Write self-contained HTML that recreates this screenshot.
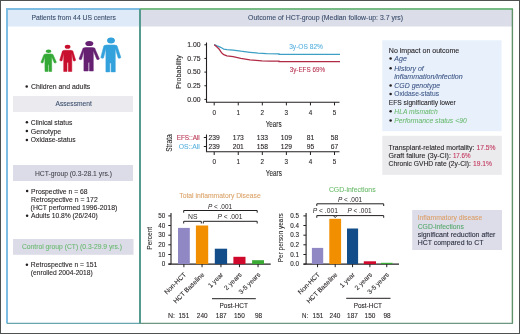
<!DOCTYPE html>
<html><head><meta charset="utf-8"><title>HCT outcome graphical abstract</title>
<style>
html,body{margin:0;padding:0;background:#fff;}
body{width:520px;height:334px;overflow:hidden;}
svg{display:block;font-family:"Liberation Sans", sans-serif;will-change:transform;}
</style></head>
<body>
<svg width="520" height="334" viewBox="0 0 520 334">
<rect x="0" y="0" width="520" height="334" fill="#ffffff"/>
<rect x="8" y="10" width="131" height="16.5" fill="#deeaf7"/>
<rect x="13" y="96" width="120" height="16" fill="#ebebef"/>
<rect x="13" y="165" width="120" height="16" fill="#dcdce8"/>
<rect x="13" y="239" width="120.5" height="15.8" fill="#dcdce8"/>
<path d="M7,323.5 L7,9 L140,9" stroke="#7dbde3" stroke-width="2" fill="none"/>
<line x1="7" y1="323.4" x2="140" y2="323.4" stroke="#68a6ae" stroke-width="1.3"/>
<rect x="141" y="10" width="371" height="16.5" fill="#dbdde8"/>
<line x1="140" y1="9" x2="513" y2="9" stroke="#78ba86" stroke-width="2"/>
<line x1="512.4" y1="9" x2="512.4" y2="323.5" stroke="#62926a" stroke-width="1.4"/>
<line x1="140" y1="323.4" x2="513" y2="323.4" stroke="#6d9780" stroke-width="1.3"/>
<line x1="140" y1="9" x2="140" y2="324" stroke="#579a8f" stroke-width="2"/>
<text x="31.4" y="20.1" font-size="7.4" fill="#3a4d6c" stroke="#3a4d6c" stroke-width="0.1" textLength="84.6" lengthAdjust="spacingAndGlyphs">Patients from 44 US centers</text>
<circle cx="26.7" cy="86.4" r="1.25" fill="#231f20"/>
<text x="31" y="88.9" font-size="7.4" fill="#231f20" stroke="#231f20" stroke-width="0.1" textLength="59.3" lengthAdjust="spacingAndGlyphs">Children and adults</text>
<text x="55.5" y="106.1" font-size="7.4" fill="#3a4d6c" stroke="#3a4d6c" stroke-width="0.1" textLength="36.3" lengthAdjust="spacingAndGlyphs">Assessment</text>
<circle cx="26.9" cy="122.19999999999999" r="1.25" fill="#231f20"/>
<text x="30.8" y="124.6" font-size="7.4" fill="#231f20" stroke="#231f20" stroke-width="0.1" textLength="41.5" lengthAdjust="spacingAndGlyphs">Clinical status</text>
<circle cx="26.9" cy="131.1" r="1.25" fill="#231f20"/>
<text x="30.8" y="133.5" font-size="7.4" fill="#231f20" stroke="#231f20" stroke-width="0.1" textLength="30.4" lengthAdjust="spacingAndGlyphs">Genotype</text>
<circle cx="26.9" cy="139.9" r="1.25" fill="#231f20"/>
<text x="30.8" y="142.3" font-size="7.4" fill="#231f20" stroke="#231f20" stroke-width="0.1" textLength="44.9" lengthAdjust="spacingAndGlyphs">Oxidase-status</text>
<text x="34.9" y="175.5" font-size="7.4" fill="#44444e" stroke="#44444e" stroke-width="0.08" textLength="77.0" lengthAdjust="spacingAndGlyphs">HCT-group (0.3-28.1 yrs.)</text>
<circle cx="27.1" cy="191.1" r="1.25" fill="#231f20"/>
<text x="31.1" y="193.5" font-size="7.4" fill="#231f20" stroke="#231f20" stroke-width="0.1" textLength="56.5" lengthAdjust="spacingAndGlyphs">Prospective n = 68</text>
<text x="31.1" y="201.6" font-size="7.4" fill="#231f20" stroke="#231f20" stroke-width="0.1" textLength="66.6" lengthAdjust="spacingAndGlyphs">Retrospective n = 172</text>
<text x="30.6" y="209.8" font-size="7.4" fill="#231f20" stroke="#231f20" stroke-width="0.1" textLength="86.7" lengthAdjust="spacingAndGlyphs">(HCT performed 1996-2018)</text>
<circle cx="27.1" cy="215.79999999999998" r="1.25" fill="#231f20"/>
<text x="31.1" y="218.2" font-size="7.4" fill="#231f20" stroke="#231f20" stroke-width="0.1" textLength="66.6" lengthAdjust="spacingAndGlyphs">Adults 10.8% (26/240)</text>
<text x="22" y="249.3" font-size="7.4" fill="#66b86b" stroke="#66b86b" stroke-width="0.06" textLength="100" lengthAdjust="spacingAndGlyphs">Control group (CT) (0.3-29.9 yrs.)</text>
<circle cx="26.9" cy="264.8" r="1.25" fill="#231f20"/>
<text x="30.8" y="267.2" font-size="7.4" fill="#231f20" stroke="#231f20" stroke-width="0.1" textLength="66.6" lengthAdjust="spacingAndGlyphs">Retrospective n = 151</text>
<text x="30.8" y="274.9" font-size="7.4" fill="#231f20" stroke="#231f20" stroke-width="0.1" textLength="61.9" lengthAdjust="spacingAndGlyphs">(enrolled 2004-2018)</text>
<g><ellipse cx="48.55" cy="51.2" rx="2.85" ry="1.75" fill="#35a936"/><path d="M45.0,71.5 L44.9,64.8 L44.9,56.65 L43.1,62.7 Q42.0,63.6 40.9,62.3 L43.4,55.88 Q43.4,53.9 45.97,53.9 L51.03,53.9 Q53.6,53.9 53.6,55.88 L56.4,62.3 Q55.3,63.6 54.2,62.7 L51.7,56.65 L51.7,64.8 L51.7,71.5 L48.9,71.5 L48.9,64.8 L48.0,64.8 L48.0,71.5 Z" fill="#35a936" stroke="#35a936" stroke-width="0.5" stroke-linejoin="round"/></g>
<g><ellipse cx="67.6" cy="46.7" rx="2.85" ry="2.0" fill="#c8102e"/><path d="M63.7,71.5 L63.7,62.6 L63.7,53.3 L62.1,60.7 Q60.9,61.6 59.7,60.3 L62.0,52.46 Q62.0,50.3 64.81,50.3 L70.49,50.3 Q73.3,50.3 73.3,52.46 L75.7,60.3 Q74.5,61.6 73.3,60.7 L71.8,53.3 L71.8,62.6 L71.8,71.5 L68.3,71.5 L68.3,62.6 L67.0,62.6 L67.0,71.5 Z" fill="#c8102e" stroke="#c8102e" stroke-width="0.5" stroke-linejoin="round"/></g>
<g><ellipse cx="89.3" cy="43.55" rx="4.0" ry="2.55" fill="#652072"/><path d="M83.9,71.0 L83.9,62.4 L83.9,50.75 L81.6,59.3 Q80.3,60.2 79.0,58.9 L82.5,49.84 Q82.5,47.5 85.54,47.5 L92.36,47.5 Q95.4,47.5 95.4,49.84 L99.4,58.9 Q98.1,60.2 96.8,59.3 L93.3,50.75 L93.3,62.4 L93.3,71.0 L89.4,71.0 L89.4,62.4 L88.2,62.4 L88.2,71.0 Z" fill="#652072" stroke="#652072" stroke-width="0.5" stroke-linejoin="round"/></g>
<g><ellipse cx="111" cy="40.4" rx="3.9" ry="3.0" fill="#33a1dc"/><path d="M105.9,71.9 L105.9,63.0 L105.9,48.38 L103.5,58.0 Q102.15,58.9 100.8,57.6 L103.4,47.43 Q103.4,45.0 106.56,45.0 L114.44,45.0 Q117.6,45.0 117.6,47.43 L120.9,57.6 Q119.55,58.9 118.2,58.0 L115.3,48.38 L115.3,63.0 L115.3,71.9 L111.1,71.9 L111.1,63.0 L109.8,63.0 L109.8,71.9 Z" fill="#33a1dc" stroke="#33a1dc" stroke-width="0.5" stroke-linejoin="round"/></g>
<text x="248" y="20.2" font-size="7.4" fill="#3a4d6c" stroke="#3a4d6c" stroke-width="0.1" textLength="155" lengthAdjust="spacingAndGlyphs">Outcome of HCT-group (Median follow-up: 3.7 yrs)</text>
<line x1="206.5" y1="42.5" x2="206.5" y2="102.3" stroke="#231f20" stroke-width="1.1"/>
<line x1="206.0" y1="102.3" x2="339.5" y2="102.3" stroke="#231f20" stroke-width="1.1"/>
<line x1="204.4" y1="44.800000000000004" x2="206.5" y2="44.800000000000004" stroke="#231f20" stroke-width="1"/>
<text x="187.2" y="47.00000000000001" font-size="6.3" fill="#231f20" stroke="#231f20" stroke-width="0.09" textLength="13.4" lengthAdjust="spacingAndGlyphs">1.00</text>
<line x1="204.4" y1="58.45" x2="206.5" y2="58.45" stroke="#231f20" stroke-width="1"/>
<text x="187.2" y="60.650000000000006" font-size="6.3" fill="#231f20" stroke="#231f20" stroke-width="0.09" textLength="13.4" lengthAdjust="spacingAndGlyphs">0.75</text>
<line x1="204.4" y1="72.10000000000001" x2="206.5" y2="72.10000000000001" stroke="#231f20" stroke-width="1"/>
<text x="187.2" y="74.30000000000001" font-size="6.3" fill="#231f20" stroke="#231f20" stroke-width="0.09" textLength="13.4" lengthAdjust="spacingAndGlyphs">0.50</text>
<line x1="204.4" y1="85.75" x2="206.5" y2="85.75" stroke="#231f20" stroke-width="1"/>
<text x="187.2" y="87.95" font-size="6.3" fill="#231f20" stroke="#231f20" stroke-width="0.09" textLength="13.4" lengthAdjust="spacingAndGlyphs">0.25</text>
<line x1="204.4" y1="99.4" x2="206.5" y2="99.4" stroke="#231f20" stroke-width="1"/>
<text x="187.2" y="101.60000000000001" font-size="6.3" fill="#231f20" stroke="#231f20" stroke-width="0.09" textLength="13.4" lengthAdjust="spacingAndGlyphs">0.00</text>
<line x1="214.2" y1="102.3" x2="214.2" y2="105.4" stroke="#231f20" stroke-width="1"/>
<text x="214.2" y="114.7" font-size="6.3" fill="#231f20" stroke="#231f20" stroke-width="0.09" text-anchor="middle">0</text>
<line x1="238.26" y1="102.3" x2="238.26" y2="105.4" stroke="#231f20" stroke-width="1"/>
<text x="238.26" y="114.7" font-size="6.3" fill="#231f20" stroke="#231f20" stroke-width="0.09" text-anchor="middle">1</text>
<line x1="262.32" y1="102.3" x2="262.32" y2="105.4" stroke="#231f20" stroke-width="1"/>
<text x="262.32" y="114.7" font-size="6.3" fill="#231f20" stroke="#231f20" stroke-width="0.09" text-anchor="middle">2</text>
<line x1="286.38" y1="102.3" x2="286.38" y2="105.4" stroke="#231f20" stroke-width="1"/>
<text x="286.38" y="114.7" font-size="6.3" fill="#231f20" stroke="#231f20" stroke-width="0.09" text-anchor="middle">3</text>
<line x1="310.44" y1="102.3" x2="310.44" y2="105.4" stroke="#231f20" stroke-width="1"/>
<text x="310.44" y="114.7" font-size="6.3" fill="#231f20" stroke="#231f20" stroke-width="0.09" text-anchor="middle">4</text>
<line x1="334.5" y1="102.3" x2="334.5" y2="105.4" stroke="#231f20" stroke-width="1"/>
<text x="334.5" y="114.7" font-size="6.3" fill="#231f20" stroke="#231f20" stroke-width="0.09" text-anchor="middle">5</text>
<text x="265.7" y="126.5" font-size="8.4" fill="#2a2a2a" stroke="#2a2a2a" stroke-width="0.09" textLength="15.9" lengthAdjust="spacingAndGlyphs">Years</text>
<text x="0" y="0" font-size="7.4" fill="#2a2a2a" stroke="#2a2a2a" stroke-width="0.09" text-anchor="middle" textLength="33.6" lengthAdjust="spacingAndGlyphs" transform="translate(181,71.9) rotate(-90)">Probability</text>
<path d="M214.2,44.7 L216,45.4 L217.7,46.2 L219.6,46.9 L221.5,47.7 L222.7,48.5 L223.8,49.1 L226.9,49.6 L233.1,50.1 L240.8,51.2 L250,52.3 L258,53.1 L266.5,53.6 L279,53.9 L279,54.3 L340,54.3" stroke="#3d9fc4" stroke-width="1.25" fill="none"/>
<path d="M214.2,44.7 L215.5,45.7 L216.9,46.9 L218,48 L219.2,49.2 L220.3,50.9 L221.5,52.7 L222.6,53.8 L223.8,54.6 L226.9,55.8 L233.1,56.6 L240.8,58.3 L250,59.8 L256,60.4 L262,60.9 L270,61.1 L279,61.2 L279,61.6 L340,61.6" stroke="#b02a45" stroke-width="1.3" fill="none"/>
<text x="289.2" y="48.7" font-size="6.6" fill="#5ab2de" stroke="#5ab2de" stroke-width="0.09" textLength="33.8" lengthAdjust="spacingAndGlyphs">3y-OS 82%</text>
<text x="289.7" y="72.4" font-size="6.6" fill="#b83553" stroke="#b83553" stroke-width="0.09" textLength="35.3" lengthAdjust="spacingAndGlyphs">3y-EFS 69%</text>
<line x1="206.5" y1="134.5" x2="206.5" y2="151.8" stroke="#231f20" stroke-width="1.1"/>
<line x1="206.0" y1="151.8" x2="339.5" y2="151.8" stroke="#231f20" stroke-width="1.1"/>
<line x1="203.8" y1="137.5" x2="206.5" y2="137.5" stroke="#231f20" stroke-width="1"/>
<line x1="203.8" y1="146.5" x2="206.5" y2="146.5" stroke="#231f20" stroke-width="1"/>
<text x="176.7" y="139.7" font-size="6.6" fill="#b83553" stroke="#b83553" stroke-width="0.09" textLength="23.1" lengthAdjust="spacingAndGlyphs">EFS::All</text>
<text x="178.7" y="148.6" font-size="6.6" fill="#5ab2de" stroke="#5ab2de" stroke-width="0.09" textLength="21.1" lengthAdjust="spacingAndGlyphs">OS::All</text>
<text x="0" y="0" font-size="8.4" fill="#2a2a2a" stroke="#2a2a2a" stroke-width="0.09" text-anchor="middle" textLength="17.5" lengthAdjust="spacingAndGlyphs" transform="translate(172,143.1) rotate(-90)">Strata</text>
<text x="208.6" y="139.8" font-size="6.3" fill="#231f20" stroke="#231f20" stroke-width="0.09" textLength="11.2" lengthAdjust="spacingAndGlyphs">239</text>
<text x="208.6" y="148.9" font-size="6.3" fill="#231f20" stroke="#231f20" stroke-width="0.09" textLength="11.2" lengthAdjust="spacingAndGlyphs">239</text>
<line x1="214.2" y1="151.8" x2="214.2" y2="155.0" stroke="#231f20" stroke-width="1"/>
<text x="214.2" y="164.1" font-size="6.3" fill="#231f20" stroke="#231f20" stroke-width="0.09" text-anchor="middle">0</text>
<text x="232.66" y="139.8" font-size="6.3" fill="#231f20" stroke="#231f20" stroke-width="0.09" textLength="11.2" lengthAdjust="spacingAndGlyphs">173</text>
<text x="232.66" y="148.9" font-size="6.3" fill="#231f20" stroke="#231f20" stroke-width="0.09" textLength="11.2" lengthAdjust="spacingAndGlyphs">201</text>
<line x1="238.26" y1="151.8" x2="238.26" y2="155.0" stroke="#231f20" stroke-width="1"/>
<text x="238.26" y="164.1" font-size="6.3" fill="#231f20" stroke="#231f20" stroke-width="0.09" text-anchor="middle">1</text>
<text x="256.71999999999997" y="139.8" font-size="6.3" fill="#231f20" stroke="#231f20" stroke-width="0.09" textLength="11.2" lengthAdjust="spacingAndGlyphs">133</text>
<text x="256.71999999999997" y="148.9" font-size="6.3" fill="#231f20" stroke="#231f20" stroke-width="0.09" textLength="11.2" lengthAdjust="spacingAndGlyphs">158</text>
<line x1="262.32" y1="151.8" x2="262.32" y2="155.0" stroke="#231f20" stroke-width="1"/>
<text x="262.32" y="164.1" font-size="6.3" fill="#231f20" stroke="#231f20" stroke-width="0.09" text-anchor="middle">2</text>
<text x="280.78" y="139.8" font-size="6.3" fill="#231f20" stroke="#231f20" stroke-width="0.09" textLength="11.2" lengthAdjust="spacingAndGlyphs">109</text>
<text x="280.78" y="148.9" font-size="6.3" fill="#231f20" stroke="#231f20" stroke-width="0.09" textLength="11.2" lengthAdjust="spacingAndGlyphs">129</text>
<line x1="286.38" y1="151.8" x2="286.38" y2="155.0" stroke="#231f20" stroke-width="1"/>
<text x="286.38" y="164.1" font-size="6.3" fill="#231f20" stroke="#231f20" stroke-width="0.09" text-anchor="middle">3</text>
<text x="306.69" y="139.8" font-size="6.3" fill="#231f20" stroke="#231f20" stroke-width="0.09" textLength="7.5" lengthAdjust="spacingAndGlyphs">81</text>
<text x="306.69" y="148.9" font-size="6.3" fill="#231f20" stroke="#231f20" stroke-width="0.09" textLength="7.5" lengthAdjust="spacingAndGlyphs">95</text>
<line x1="310.44" y1="151.8" x2="310.44" y2="155.0" stroke="#231f20" stroke-width="1"/>
<text x="310.44" y="164.1" font-size="6.3" fill="#231f20" stroke="#231f20" stroke-width="0.09" text-anchor="middle">4</text>
<text x="330.75" y="139.8" font-size="6.3" fill="#231f20" stroke="#231f20" stroke-width="0.09" textLength="7.5" lengthAdjust="spacingAndGlyphs">58</text>
<text x="330.75" y="148.9" font-size="6.3" fill="#231f20" stroke="#231f20" stroke-width="0.09" textLength="7.5" lengthAdjust="spacingAndGlyphs">67</text>
<line x1="334.5" y1="151.8" x2="334.5" y2="155.0" stroke="#231f20" stroke-width="1"/>
<text x="334.5" y="164.1" font-size="6.3" fill="#231f20" stroke="#231f20" stroke-width="0.09" text-anchor="middle">5</text>
<text x="265.8" y="176.4" font-size="8.4" fill="#2a2a2a" stroke="#2a2a2a" stroke-width="0.09" textLength="16.1" lengthAdjust="spacingAndGlyphs">Years</text>
<rect x="382.3" y="40.3" width="119.2" height="90.9" fill="#e7f0fb"/>
<rect x="382.3" y="135.8" width="119.5" height="39.1" fill="#ebebee"/>
<text x="388.8" y="52.7" font-size="7.4" fill="#231f20" stroke="#231f20" stroke-width="0.1" textLength="70.5" lengthAdjust="spacingAndGlyphs">No impact on outcome</text>
<circle cx="390.6" cy="58.6" r="1.25" fill="#231f20"/>
<text x="394.3" y="61.0" font-size="7.4" fill="#3b5384" stroke="#3b5384" stroke-width="0.07" font-style="italic" textLength="12.5" lengthAdjust="spacingAndGlyphs">Age</text>
<circle cx="390.6" cy="68.19999999999999" r="1.25" fill="#231f20"/>
<text x="394.3" y="70.6" font-size="7.4" fill="#3b5384" stroke="#3b5384" stroke-width="0.07" font-style="italic" textLength="29.5" lengthAdjust="spacingAndGlyphs">History of</text>
<circle cx="390.6" cy="85.39999999999999" r="1.25" fill="#231f20"/>
<text x="394.3" y="87.8" font-size="7.4" fill="#3b5384" stroke="#3b5384" stroke-width="0.07" font-style="italic" textLength="45.9" lengthAdjust="spacingAndGlyphs">CGD genotype</text>
<circle cx="390.6" cy="94.0" r="1.25" fill="#231f20"/>
<text x="394.3" y="96.4" font-size="7.4" fill="#3b5384" stroke="#3b5384" stroke-width="0.07" textLength="44.7" lengthAdjust="spacingAndGlyphs">Oxidase-status</text>
<text x="394.3" y="78.5" font-size="7.4" fill="#3b5384" stroke="#3b5384" stroke-width="0.07" font-style="italic" textLength="68.4" lengthAdjust="spacingAndGlyphs">inflammation/infection</text>
<text x="388.8" y="105.1" font-size="7.4" fill="#231f20" stroke="#231f20" stroke-width="0.1" textLength="67.0" lengthAdjust="spacingAndGlyphs">EFS significantly lower</text>
<circle cx="390.6" cy="111.3" r="1.25" fill="#231f20"/>
<text x="394.3" y="113.7" font-size="7.4" fill="#6aba6e" stroke="#6aba6e" stroke-width="0.05" font-style="italic" textLength="43.4" lengthAdjust="spacingAndGlyphs">HLA mismatch</text>
<circle cx="390.6" cy="120.5" r="1.25" fill="#231f20"/>
<text x="394.3" y="122.9" font-size="7.4" fill="#6aba6e" stroke="#6aba6e" stroke-width="0.05" font-style="italic" textLength="72.4" lengthAdjust="spacingAndGlyphs">Performance status &lt;90</text>
<text x="388.6" y="149.7" font-size="7.4" fill="#231f20" stroke="#231f20" stroke-width="0.1" textLength="85.8" lengthAdjust="spacingAndGlyphs">Transplant-related mortality:</text>
<text x="476.4" y="149.7" font-size="7.4" fill="#c2345a" stroke="#c2345a" stroke-width="0.1" textLength="19.1" lengthAdjust="spacingAndGlyphs">17.5%</text>
<text x="388.6" y="157.8" font-size="7.4" fill="#231f20" stroke="#231f20" stroke-width="0.1" textLength="62.3" lengthAdjust="spacingAndGlyphs">Graft failure (3y-CI):</text>
<text x="452.9" y="157.8" font-size="7.4" fill="#c2345a" stroke="#c2345a" stroke-width="0.1" textLength="17.7" lengthAdjust="spacingAndGlyphs">17.6%</text>
<text x="388.6" y="165.9" font-size="7.4" fill="#231f20" stroke="#231f20" stroke-width="0.1" textLength="82.4" lengthAdjust="spacingAndGlyphs">Chronic GVHD rate (2y-CI):</text>
<text x="473.0" y="165.9" font-size="7.4" fill="#c2345a" stroke="#c2345a" stroke-width="0.1" textLength="18.9" lengthAdjust="spacingAndGlyphs">19.1%</text>
<rect x="412.2" y="210.0" width="89.8" height="40.0" fill="#dcdde9"/>
<text x="417.7" y="220.4" font-size="7.4" fill="#dd9c62" stroke="#dd9c62" stroke-width="0.06" textLength="64.5" lengthAdjust="spacingAndGlyphs">Inflammatory disease</text>
<text x="417.7" y="228.9" font-size="7.4" fill="#56a86c" stroke="#56a86c" stroke-width="0.1" textLength="46.1" lengthAdjust="spacingAndGlyphs">CGD-infections</text>
<text x="417.7" y="236.8" font-size="7.4" fill="#2b2d3f" stroke="#2b2d3f" stroke-width="0.1" textLength="77.7" lengthAdjust="spacingAndGlyphs">significant reduction after</text>
<text x="417.7" y="244.8" font-size="7.4" fill="#2b2d3f" stroke="#2b2d3f" stroke-width="0.1" textLength="65.7" lengthAdjust="spacingAndGlyphs">HCT compared to CT</text>
<text x="179.3" y="198.3" font-size="7.3" fill="#dba36a" stroke="#dba36a" stroke-width="0.09" textLength="81.4" lengthAdjust="spacingAndGlyphs">Total inflammatory Disease</text>
<line x1="171.0" y1="213.0" x2="171.0" y2="264.1" stroke="#231f20" stroke-width="1.1"/>
<line x1="168.5" y1="264.1" x2="270.7" y2="264.1" stroke="#231f20" stroke-width="1.1"/>
<line x1="168.3" y1="215.9" x2="171.0" y2="215.9" stroke="#231f20" stroke-width="1"/>
<text x="165.3" y="218.1" font-size="6.3" fill="#231f20" stroke="#231f20" stroke-width="0.09" text-anchor="end">50</text>
<line x1="168.3" y1="225.5" x2="171.0" y2="225.5" stroke="#231f20" stroke-width="1"/>
<text x="165.3" y="227.7" font-size="6.3" fill="#231f20" stroke="#231f20" stroke-width="0.09" text-anchor="end">40</text>
<line x1="168.3" y1="235.2" x2="171.0" y2="235.2" stroke="#231f20" stroke-width="1"/>
<text x="165.3" y="237.39999999999998" font-size="6.3" fill="#231f20" stroke="#231f20" stroke-width="0.09" text-anchor="end">30</text>
<line x1="168.3" y1="244.8" x2="171.0" y2="244.8" stroke="#231f20" stroke-width="1"/>
<text x="165.3" y="247.0" font-size="6.3" fill="#231f20" stroke="#231f20" stroke-width="0.09" text-anchor="end">20</text>
<line x1="168.3" y1="254.5" x2="171.0" y2="254.5" stroke="#231f20" stroke-width="1"/>
<text x="165.3" y="256.7" font-size="6.3" fill="#231f20" stroke="#231f20" stroke-width="0.09" text-anchor="end">10</text>
<line x1="168.3" y1="264.1" x2="171.0" y2="264.1" stroke="#231f20" stroke-width="1"/>
<text x="165.3" y="266.3" font-size="6.3" fill="#231f20" stroke="#231f20" stroke-width="0.09" text-anchor="end">0</text>
<rect x="178.0" y="227.9" width="11.8" height="36.2" fill="#9088c4"/>
<line x1="183.9" y1="264.1" x2="183.9" y2="267.2" stroke="#231f20" stroke-width="1"/>
<rect x="195.9" y="225.5" width="12.3" height="38.6" fill="#f18f00"/>
<line x1="202.05" y1="264.1" x2="202.05" y2="267.2" stroke="#231f20" stroke-width="1"/>
<rect x="214.8" y="248.7" width="12.3" height="15.4" fill="#124d8a"/>
<line x1="220.95" y1="264.1" x2="220.95" y2="267.2" stroke="#231f20" stroke-width="1"/>
<rect x="233.4" y="256.8" width="12.1" height="7.3" fill="#d0082c"/>
<line x1="239.45" y1="264.1" x2="239.45" y2="267.2" stroke="#231f20" stroke-width="1"/>
<rect x="252.1" y="260.2" width="11.9" height="3.9" fill="#3aaa35"/>
<line x1="258.05" y1="264.1" x2="258.05" y2="267.2" stroke="#231f20" stroke-width="1"/>
<text x="0" y="0" font-size="7.7" fill="#2a2a2a" stroke="#2a2a2a" stroke-width="0.09" text-anchor="middle" textLength="23.0" lengthAdjust="spacingAndGlyphs" transform="translate(151.7,238.3) rotate(-90)">Percent</text>
<text x="0" y="0" font-size="6.6" fill="#231f20" stroke="#231f20" stroke-width="0.09" text-anchor="end" transform="translate(186.6,275.1) rotate(-45)">Non-HCT</text>
<text x="0" y="0" font-size="6.6" fill="#231f20" stroke="#231f20" stroke-width="0.09" text-anchor="end" transform="translate(204.75,275.1) rotate(-45)">HCT Baseline</text>
<text x="0" y="0" font-size="6.6" fill="#231f20" stroke="#231f20" stroke-width="0.09" text-anchor="end" transform="translate(223.65,275.1) rotate(-45)">1 year</text>
<text x="0" y="0" font-size="6.6" fill="#231f20" stroke="#231f20" stroke-width="0.09" text-anchor="end" transform="translate(242.15,275.1) rotate(-45)">2 years</text>
<text x="0" y="0" font-size="6.6" fill="#231f20" stroke="#231f20" stroke-width="0.09" text-anchor="end" transform="translate(260.75,275.1) rotate(-45)">3-5 years</text>
<path d="M183.7,212.7 L183.7,210.5 L257.2,210.5 L257.2,212.7" stroke="#231f20" stroke-width="1" fill="none"/>
<path d="M183.7,223.5 L183.7,221.3 L201.3,221.3 L201.3,223.5" stroke="#231f20" stroke-width="1" fill="none"/>
<path d="M203.3,223.5 L203.3,221.3 L257.2,221.3 L257.2,223.5" stroke="#231f20" stroke-width="1" fill="none"/>
<text x="207.9" y="208.5" font-size="6.3" fill="#231f20" textLength="24.2" lengthAdjust="spacingAndGlyphs"><tspan font-style="italic">P</tspan> &lt; .001</text>
<text x="188" y="219.2" font-size="6.6" fill="#231f20" textLength="9.5" lengthAdjust="spacingAndGlyphs">NS</text>
<text x="217.4" y="219.2" font-size="6.3" fill="#231f20" textLength="25.1" lengthAdjust="spacingAndGlyphs"><tspan font-style="italic">P</tspan> &lt; .001</text>
<line x1="212" y1="298.7" x2="255.8" y2="298.7" stroke="#231f20" stroke-width="1"/>
<text x="219.5" y="307.7" font-size="6.6" fill="#231f20" stroke="#231f20" stroke-width="0.09" textLength="28.5" lengthAdjust="spacingAndGlyphs">Post-HCT</text>
<text x="168" y="317.8" font-size="6.6" fill="#231f20" stroke="#231f20" stroke-width="0.09" textLength="7" lengthAdjust="spacingAndGlyphs">N:</text>
<text x="178.5" y="317.8" font-size="6.6" fill="#231f20" stroke="#231f20" stroke-width="0.09" textLength="10.8" lengthAdjust="spacingAndGlyphs">151</text>
<text x="196.85" y="317.8" font-size="6.6" fill="#231f20" stroke="#231f20" stroke-width="0.09" textLength="10.8" lengthAdjust="spacingAndGlyphs">240</text>
<text x="215.85" y="317.8" font-size="6.6" fill="#231f20" stroke="#231f20" stroke-width="0.09" textLength="10.8" lengthAdjust="spacingAndGlyphs">187</text>
<text x="234.0" y="317.8" font-size="6.6" fill="#231f20" stroke="#231f20" stroke-width="0.09" textLength="10.8" lengthAdjust="spacingAndGlyphs">150</text>
<text x="254.9" y="317.8" font-size="6.6" fill="#231f20" stroke="#231f20" stroke-width="0.09" textLength="7.2" lengthAdjust="spacingAndGlyphs">98</text>
<text x="328.9" y="191.5" font-size="7.3" fill="#6cbb6c" stroke="#6cbb6c" stroke-width="0.09" textLength="46.7" lengthAdjust="spacingAndGlyphs">CGD-infections</text>
<line x1="306.1" y1="213.0" x2="306.1" y2="264.1" stroke="#231f20" stroke-width="1.1"/>
<line x1="303.5" y1="264.1" x2="399.0" y2="264.1" stroke="#231f20" stroke-width="1.1"/>
<line x1="303.40000000000003" y1="215.9" x2="306.1" y2="215.9" stroke="#231f20" stroke-width="1"/>
<text x="298.9" y="218.1" font-size="6.3" fill="#231f20" stroke="#231f20" stroke-width="0.09" text-anchor="end">0.5</text>
<line x1="303.40000000000003" y1="225.5" x2="306.1" y2="225.5" stroke="#231f20" stroke-width="1"/>
<text x="298.9" y="227.7" font-size="6.3" fill="#231f20" stroke="#231f20" stroke-width="0.09" text-anchor="end">0.4</text>
<line x1="303.40000000000003" y1="235.2" x2="306.1" y2="235.2" stroke="#231f20" stroke-width="1"/>
<text x="298.9" y="237.39999999999998" font-size="6.3" fill="#231f20" stroke="#231f20" stroke-width="0.09" text-anchor="end">0.3</text>
<line x1="303.40000000000003" y1="244.8" x2="306.1" y2="244.8" stroke="#231f20" stroke-width="1"/>
<text x="298.9" y="247.0" font-size="6.3" fill="#231f20" stroke="#231f20" stroke-width="0.09" text-anchor="end">0.2</text>
<line x1="303.40000000000003" y1="254.5" x2="306.1" y2="254.5" stroke="#231f20" stroke-width="1"/>
<text x="298.9" y="256.7" font-size="6.3" fill="#231f20" stroke="#231f20" stroke-width="0.09" text-anchor="end">0.1</text>
<line x1="303.40000000000003" y1="264.1" x2="306.1" y2="264.1" stroke="#231f20" stroke-width="1"/>
<text x="298.9" y="266.3" font-size="6.3" fill="#231f20" stroke="#231f20" stroke-width="0.09" text-anchor="end">0.0</text>
<rect x="311.9" y="247.9" width="11.3" height="16.2" fill="#9088c4"/>
<line x1="317.54999999999995" y1="264.1" x2="317.54999999999995" y2="267.2" stroke="#231f20" stroke-width="1"/>
<rect x="329.3" y="218.8" width="11.8" height="45.3" fill="#f18f00"/>
<line x1="335.20000000000005" y1="264.1" x2="335.20000000000005" y2="267.2" stroke="#231f20" stroke-width="1"/>
<rect x="347.0" y="228.5" width="11.1" height="35.6" fill="#124d8a"/>
<line x1="352.55" y1="264.1" x2="352.55" y2="267.2" stroke="#231f20" stroke-width="1"/>
<rect x="363.8" y="261.3" width="12.2" height="2.8" fill="#d0082c"/>
<line x1="369.9" y1="264.1" x2="369.9" y2="267.2" stroke="#231f20" stroke-width="1"/>
<rect x="381.0" y="262.8" width="11.5" height="1.3" fill="#3aaa35"/>
<line x1="386.75" y1="264.1" x2="386.75" y2="267.2" stroke="#231f20" stroke-width="1"/>
<text x="0" y="0" font-size="7.7" fill="#2a2a2a" stroke="#2a2a2a" stroke-width="0.09" text-anchor="middle" textLength="49.0" lengthAdjust="spacingAndGlyphs" transform="translate(283.2,237.7) rotate(-90)">Per person years</text>
<text x="0" y="0" font-size="6.6" fill="#231f20" stroke="#231f20" stroke-width="0.09" text-anchor="end" transform="translate(320.25,275.1) rotate(-45)">Non-HCT</text>
<text x="0" y="0" font-size="6.6" fill="#231f20" stroke="#231f20" stroke-width="0.09" text-anchor="end" transform="translate(337.9,275.1) rotate(-45)">HCT Baseline</text>
<text x="0" y="0" font-size="6.6" fill="#231f20" stroke="#231f20" stroke-width="0.09" text-anchor="end" transform="translate(355.25,275.1) rotate(-45)">1 year</text>
<text x="0" y="0" font-size="6.6" fill="#231f20" stroke="#231f20" stroke-width="0.09" text-anchor="end" transform="translate(372.6,275.1) rotate(-45)">2 years</text>
<text x="0" y="0" font-size="6.6" fill="#231f20" stroke="#231f20" stroke-width="0.09" text-anchor="end" transform="translate(389.45,275.1) rotate(-45)">3-5 years</text>
<path d="M316.8,206.0 L316.8,203.8 L383.7,203.8 L383.7,206.0" stroke="#231f20" stroke-width="1" fill="none"/>
<path d="M316.8,217.79999999999998 L316.8,215.6 L383.7,215.6 L383.7,217.79999999999998" stroke="#231f20" stroke-width="1" fill="none"/>
<path d="M333.4,215.6 L335.2,217.6 L337,215.6" stroke="#231f20" stroke-width="0.9" fill="none"/>
<text x="337.9" y="201.7" font-size="6.3" fill="#231f20" textLength="24.2" lengthAdjust="spacingAndGlyphs"><tspan font-style="italic">P</tspan> &lt; .001</text>
<text x="312.8" y="213.4" font-size="6.3" fill="#231f20" textLength="25.1" lengthAdjust="spacingAndGlyphs"><tspan font-style="italic">P</tspan> &lt; .001</text>
<text x="347.4" y="213.4" font-size="6.3" fill="#231f20" textLength="24.2" lengthAdjust="spacingAndGlyphs"><tspan font-style="italic">P</tspan> &lt; .001</text>
<line x1="346.2" y1="298.3" x2="390.5" y2="298.3" stroke="#231f20" stroke-width="1"/>
<text x="353.7" y="307.7" font-size="6.6" fill="#231f20" stroke="#231f20" stroke-width="0.09" textLength="28.3" lengthAdjust="spacingAndGlyphs">Post-HCT</text>
<text x="302" y="317.8" font-size="6.6" fill="#231f20" stroke="#231f20" stroke-width="0.09" textLength="6.2" lengthAdjust="spacingAndGlyphs">N:</text>
<text x="312.6" y="317.8" font-size="6.6" fill="#231f20" stroke="#231f20" stroke-width="0.09" textLength="10.8" lengthAdjust="spacingAndGlyphs">151</text>
<text x="329.6" y="317.8" font-size="6.6" fill="#231f20" stroke="#231f20" stroke-width="0.09" textLength="10.8" lengthAdjust="spacingAndGlyphs">240</text>
<text x="347.1" y="317.8" font-size="6.6" fill="#231f20" stroke="#231f20" stroke-width="0.09" textLength="10.8" lengthAdjust="spacingAndGlyphs">187</text>
<text x="364.6" y="317.8" font-size="6.6" fill="#231f20" stroke="#231f20" stroke-width="0.09" textLength="10.8" lengthAdjust="spacingAndGlyphs">150</text>
<text x="383.4" y="317.8" font-size="6.6" fill="#231f20" stroke="#231f20" stroke-width="0.09" textLength="7.2" lengthAdjust="spacingAndGlyphs">98</text>
<rect x="0.5" y="0.5" width="519" height="333" fill="none" stroke="#4d5150" stroke-width="1"/>
</svg>
</body></html>
